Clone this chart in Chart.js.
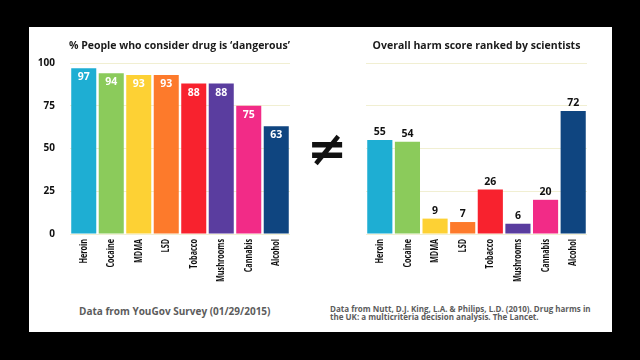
<!DOCTYPE html>
<html lang="en">
<head>
  <meta charset="UTF-8">
  <title>Perceived danger vs harm score</title>
  <script src="https://cdn.jsdelivr.net/npm/chart.js"></script>
  <style>
    body { margin: 0; background: #000; width: 640px; height: 360px; overflow: hidden; font-family: "Open Sans", sans-serif; }
    #panel { position: absolute; left: 29px; top: 27px; width: 583px; height: 305px; background: #fff; }
    canvas { position: absolute; }
    .note { position: absolute; color: #5c5c5c; font-weight: bold; white-space: nowrap; }
    #neq { position: absolute; left: 307px; top: 120px; font: bold 48px "DejaVu Sans", sans-serif; color: #111; }
  </style>
</head>
<body>
  <div id="panel"></div>
  <canvas id="survey" width="271" height="273" style="left:29px;top:27px"></canvas>
  <canvas id="harm" width="291" height="273" style="left:320px;top:27px"></canvas>
  <div id="neq">≠</div>
  <div class="note" style="left:79px;top:304px;font-size:10px">Data from YouGov Survey (01/29/2015)</div>
  <div class="note" style="left:330px;top:305px;font-size:8px;line-height:8px">Data from Nutt, D.J. King, L.A. &amp; Philips, L.D. (2010). Drug harms in<br>the UK: a multicriteria decision analysis. The Lancet.</div>

  <script>
    const drugs = ['Heroin', 'Cocaine', 'MDMA', 'LSD', 'Tobacco', 'Mushrooms', 'Cannabis', 'Alcohol'];
    const dangerPct = [97, 94, 93, 93, 88, 88, 75, 63];
    const harmScore = [55, 54, 9, 7, 26, 6, 20, 72];
    const yTicks = [0, 25, 50, 75, 100];
    const colours = ['#1eaed3', '#8bcb5b', '#fdd134', '#fd7a2b', '#f8222e', '#5a3d9f', '#f22b87', '#0f4580'];

    const gridColor = 'rgba(232, 228, 180, 0.6)';

    // value labels: inside (white) for survey, above (black) for harm
    function valueLabels(inside) {
      return {
        id: 'valueLabels',
        afterDatasetsDraw(chart) {
          const ctx = chart.ctx;
          const meta = chart.getDatasetMeta(0);
          ctx.save();
          ctx.font = 'bold 10.5px "Open Sans"';
          ctx.textAlign = 'center';
          ctx.textBaseline = 'middle';
          ctx.fillStyle = inside ? '#fff' : '#111';
          meta.data.forEach((bar, i) => {
            const v = chart.data.datasets[0].data[i];
            ctx.fillText(v, bar.x, inside ? bar.y + 9 : bar.y - 8);
          });
          ctx.restore();
        }
      };
    }

    // category labels, rotated and a bit squeezed along their length like the original
    const squeezedLabels = {
      id: 'squeezedLabels',
      afterDraw(chart) {
        const ctx = chart.ctx;
        const xs = chart.scales.x;
        ctx.save();
        ctx.font = 'bold 11px "Open Sans"';
        ctx.fillStyle = '#111';
        ctx.textAlign = 'right';
        ctx.textBaseline = 'middle';
        chart.data.labels.forEach((lab, i) => {
          ctx.save();
          ctx.translate(xs.getPixelForTick(i), xs.top + 5);
          ctx.rotate(-Math.PI / 2);
          ctx.scale(0.66, 1);
          ctx.fillText(lab, 0, 0);
          ctx.restore();
        });
        ctx.restore();
      }
    };

    function makeChart(id, title, values, inside, showY, pad) {
      new Chart(document.getElementById(id), {
        type: 'bar',
        data: {
          labels: drugs,
          datasets: [{ data: values, backgroundColor: colours, barPercentage: 0.91, categoryPercentage: 1 }]
        },
        options: {
          responsive: false,
          animation: false,
          layout: { padding: pad },
          plugins: {
            legend: { display: false },
            tooltip: { enabled: false },
            title: {
              display: true, text: title, color: '#1a1a1a', align: showY ? 'end' : 'center',
              font: { family: 'Open Sans', size: 10.5, weight: 'bold', lineHeight: 1.2 },
              padding: { top: 12.5, bottom: 10.9 }
            }
          },
          scales: {
            x: {
              grid: { display: false },
              border: { display: false },
              ticks: { display: false },
              afterFit(s) { s.height = 60; }
            },
            y: {
              min: 0, max: 100,
              afterBuildTicks(s) { s.ticks = yTicks.map(v => ({ value: v })); },
              grid: { color: gridColor, drawTicks: false },
              border: { display: false },
              ticks: { display: showY, color: '#111', padding: 15, font: { family: 'Open Sans', size: 10, weight: 'bold' } },
              afterFit(s) { s.width = showY ? 32 : 0; }
            }
          }
        },
        plugins: [valueLabels(inside), squeezedLabels]
      });
    }

    makeChart('survey', "% People who consider drug is \u2018dangerous\u2019", dangerPct, true, true,
      { left: 9, right: 10, top: 0, bottom: 6 });
    makeChart('harm', 'Overall harm score ranked by scientists', harmScore, false, false,
      { left: 46, right: 24, top: 0, bottom: 6 });
  </script>
</body>
</html>
